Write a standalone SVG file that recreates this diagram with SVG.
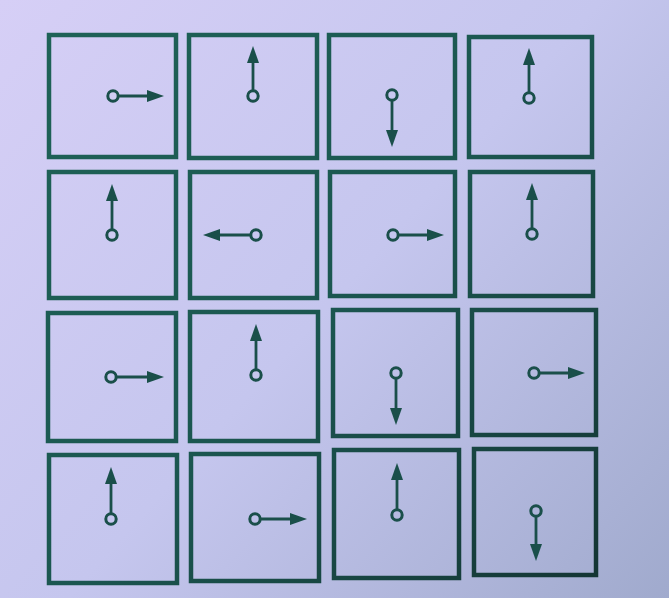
<svg xmlns="http://www.w3.org/2000/svg" width="669" height="598" viewBox="0 0 669 598">
<defs>
<linearGradient id="paper" x1="0" y1="0" x2="669" y2="598" gradientUnits="userSpaceOnUse">
<stop offset="0" stop-color="#d6cff6"/>
<stop offset="0.5" stop-color="#c5c6ee"/>
<stop offset="1" stop-color="#a0aacd"/>
</linearGradient>
<linearGradient id="ink" x1="0" y1="0" x2="669" y2="598" gradientUnits="userSpaceOnUse">
<stop offset="0" stop-color="#1f6458"/>
<stop offset="0.5" stop-color="#1b5650"/>
<stop offset="1" stop-color="#13302f"/>
</linearGradient>
<marker id="head" viewBox="0 0 17 12" refX="9" refY="6" markerWidth="17" markerHeight="12" markerUnits="userSpaceOnUse" orient="auto">
<path d="M0,0 L17,6 L0,12 z" fill="#1a4f4a"/>
</marker>
</defs>
<style>
.sq{fill:none;stroke:url(#ink);stroke-width:4.5}
.pt{fill:none;stroke:#1a4f4a;stroke-width:3}
.ar{stroke:#1a4f4a;stroke-width:2.8;marker-end:url(#head)}
</style>
<rect width="669" height="598" fill="url(#paper)"/>
<g id="cells">
<g id="r0c0"><rect class="sq" x="49" y="35" width="127" height="122"/><circle class="pt" cx="113" cy="96" r="5.2"/><line class="ar" x1="119" y1="96" x2="156" y2="96"/></g>
<g id="r0c1"><rect class="sq" x="189" y="35" width="128" height="123"/><circle class="pt" cx="253" cy="96" r="5.2"/><line class="ar" x1="253" y1="90" x2="253" y2="54"/></g>
<g id="r0c2"><rect class="sq" x="329" y="35" width="126" height="123"/><circle class="pt" cx="392" cy="95" r="5.2"/><line class="ar" x1="392" y1="101" x2="392" y2="139"/></g>
<g id="r0c3"><rect class="sq" x="469" y="37" width="123" height="120"/><circle class="pt" cx="529" cy="98" r="5.2"/><line class="ar" x1="529" y1="92" x2="529" y2="56"/></g>
<g id="r1c0"><rect class="sq" x="49" y="172" width="127" height="126"/><circle class="pt" cx="112" cy="235" r="5.2"/><line class="ar" x1="112" y1="229" x2="112" y2="192"/></g>
<g id="r1c1"><rect class="sq" x="190" y="172" width="127" height="126"/><circle class="pt" cx="256" cy="235" r="5.2"/><line class="ar" x1="250" y1="235" x2="211" y2="235"/></g>
<g id="r1c2"><rect class="sq" x="330" y="172" width="125" height="124"/><circle class="pt" cx="393" cy="235" r="5.2"/><line class="ar" x1="399" y1="235" x2="436" y2="235"/></g>
<g id="r1c3"><rect class="sq" x="470" y="172" width="123" height="124"/><circle class="pt" cx="532" cy="234" r="5.2"/><line class="ar" x1="532" y1="228" x2="532" y2="191"/></g>
<g id="r2c0"><rect class="sq" x="48" y="313" width="128" height="128"/><circle class="pt" cx="111" cy="377" r="5.2"/><line class="ar" x1="117" y1="377" x2="156" y2="377"/></g>
<g id="r2c1"><rect class="sq" x="190" y="312" width="128" height="129"/><circle class="pt" cx="256" cy="375" r="5.2"/><line class="ar" x1="256" y1="369" x2="256" y2="332"/></g>
<g id="r2c2"><rect class="sq" x="333" y="310" width="125" height="126"/><circle class="pt" cx="396" cy="373" r="5.2"/><line class="ar" x1="396" y1="379" x2="396" y2="417"/></g>
<g id="r2c3"><rect class="sq" x="472" y="310" width="124" height="125"/><circle class="pt" cx="534" cy="373" r="5.2"/><line class="ar" x1="540" y1="373" x2="577" y2="373"/></g>
<g id="r3c0"><rect class="sq" x="49" y="455" width="128" height="128"/><circle class="pt" cx="111" cy="519" r="5.2"/><line class="ar" x1="111" y1="513" x2="111" y2="475"/></g>
<g id="r3c1"><rect class="sq" x="191" y="454" width="128" height="127"/><circle class="pt" cx="255" cy="519" r="5.2"/><line class="ar" x1="261" y1="519" x2="299" y2="519"/></g>
<g id="r3c2"><rect class="sq" x="334" y="450" width="125" height="128"/><circle class="pt" cx="397" cy="515" r="5.2"/><line class="ar" x1="397" y1="509" x2="397" y2="471"/></g>
<g id="r3c3"><rect class="sq" x="474" y="449" width="122" height="126"/><circle class="pt" cx="536" cy="511" r="5.2"/><line class="ar" x1="536" y1="517" x2="536" y2="553"/></g>
</g>
</svg>
